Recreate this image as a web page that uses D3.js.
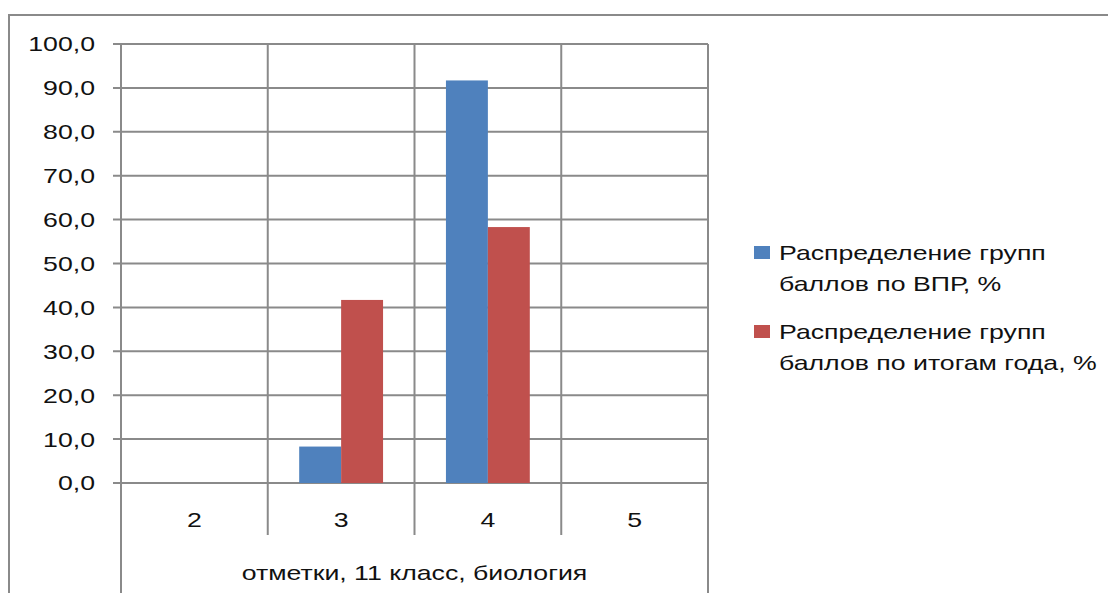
<!DOCTYPE html>
<html><head><meta charset="utf-8">
<script src="https://cdn.jsdelivr.net/npm/d3@7"></script>
<style>html,body{margin:0;padding:0;background:#fff;}svg{display:block;}</style>
</head><body>
<svg id="chart" width="1108" height="593"></svg>
<script>
const categories = ["2", "3", "4", "5"];
const seriesNames = ["Распределение групп баллов по ВПР, %", "Распределение групп баллов по итогам года, %"];
const seriesVPR = [0, 8.3, 91.7, 0];
const seriesYear = [0, 41.7, 58.3, 0];
const yTicks = [0, 10, 20, 30, 40, 50, 60, 70, 80, 90, 100];
const axisTitle = "отметки, 11 класс, биология";
const legendLines = [["Распределение групп", "баллов по ВПР, %"], ["Распределение групп", "баллов по итогам года, %"]];
const colors = ["#4F81BD", "#C0504D"];

(function () {
const svg = d3.select("#chart");
const gridColor = "#8a8a8a";
const font = "'Liberation Sans', Arial, sans-serif";
const fs = 21, sx = 1.27;

svg.append("rect").attr("width", 1108).attr("height", 593).attr("fill", "#fff");
svg.append("rect").attr("x", 9).attr("y", 15).attr("width", 1200).attr("height", 700)
  .attr("fill", "none").attr("stroke", gridColor).attr("stroke-width", 2);

const pLeft = 121, pRight = 708, pTop = 44, pBottom = 483;
const x0 = d3.scaleBand().domain(categories).range([pLeft, pRight]).padding(0);
const x1 = d3.scaleBand().domain([0, 1]).range([0, x0.bandwidth()]).paddingInner(0).paddingOuter(0.75);
const y = d3.scaleLinear().domain([0, 100]).range([pBottom, pTop]);

function txt(x, yy, s, anchor) {
  return svg.append("text").attr("transform", `translate(${x},${yy}) scale(${sx},1)`)
    .attr("text-anchor", anchor || "start").attr("dominant-baseline", "central")
    .attr("font-family", font).attr("font-size", fs).attr("fill", "#111").text(s);
}

svg.append("g").selectAll("line").data(yTicks).join("line")
  .attr("x1", pLeft - 8).attr("x2", pRight).attr("y1", d => y(d)).attr("y2", d => y(d))
  .attr("stroke", gridColor).attr("stroke-width", 2);

const bounds = categories.map(c => x0(c)).concat([pRight]);
svg.append("g").selectAll("line").data(bounds).join("line")
  .attr("x1", d => d).attr("x2", d => d).attr("y1", pTop)
  .attr("y2", (d, i) => (i === 0 || i === bounds.length - 1) ? 600 : 535)
  .attr("stroke", gridColor).attr("stroke-width", 2);

[seriesVPR, seriesYear].forEach((vals, si) => {
  svg.append("g").selectAll("rect").data(vals).join("rect")
    .attr("x", (d, i) => x0(categories[i]) + x1(si))
    .attr("width", x1.bandwidth())
    .attr("y", d => y(d)).attr("height", d => y(0) - y(d))
    .attr("fill", colors[si]);
});

yTicks.forEach(t => txt(95, y(t), d3.format(".1f")(t).replace(".", ","), "end"));
categories.forEach(c => txt(x0(c) + x0.bandwidth() / 2, 520, c, "middle"));
txt((pLeft + pRight) / 2, 573, axisTitle, "middle");

const legY = [253, 332];
legendLines.forEach((lines, i) => {
  svg.append("rect").attr("x", 754).attr("y", legY[i] - 7).attr("width", 16).attr("height", 13).attr("fill", colors[i]);
  lines.forEach((l, j) => txt(779, legY[i] + j * 31, l, "start"));
});
})();
</script>
</body></html>
